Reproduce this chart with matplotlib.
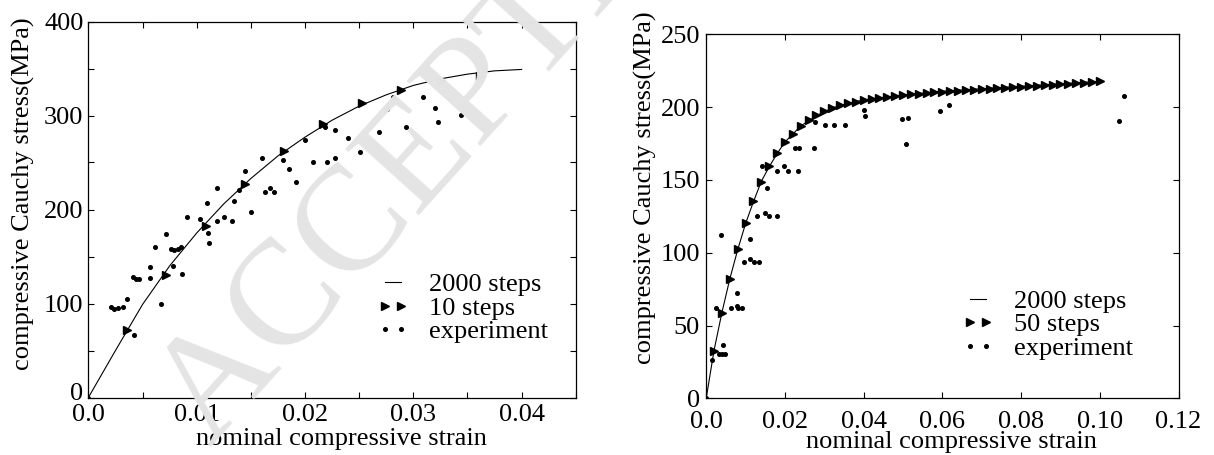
import matplotlib
matplotlib.use("Agg")
import matplotlib.pyplot as plt
from matplotlib.ticker import MultipleLocator, FixedLocator, FixedFormatter
from matplotlib.legend_handler import HandlerLine2D
from matplotlib.transforms import ScaledTranslation

plt.rcParams['font.family'] = ['Liberation Serif', 'DejaVu Serif']

# ---- left panel: 10-step integration ----
left_line_strain = [0, 0.0025, 0.005, 0.0075, 0.01, 0.0125, 0.015, 0.0175, 0.02,
                    0.0225, 0.025, 0.0275, 0.03, 0.0325, 0.035, 0.0375, 0.04]
left_line_stress = [0, 50, 99, 140, 175, 206, 233, 257, 277,
                    295, 310, 322, 332, 339, 344, 347.5, 349]

left_steps_strain = [0.0036, 0.0072, 0.0109, 0.0145, 0.0181, 0.0217, 0.0253,
                     0.0289, 0.0326, 0.0362]
left_steps_stress = [72, 130, 182, 227, 262, 291, 313, 327, 337, 342]

left_exp_strain = [0.0, 0.00205, 0.00233, 0.00275, 0.00318, 0.00357, 0.0041, 0.00441,
                   0.0047, 0.00417, 0.00568, 0.00568, 0.00618, 0.00667, 0.00717,
                   0.00759, 0.00794, 0.0083, 0.00858, 0.00777, 0.00865, 0.00907,
                   0.01034, 0.01098, 0.01105, 0.01116, 0.01186, 0.01186, 0.01253,
                   0.01324, 0.01345, 0.01395, 0.01447, 0.01497, 0.01603, 0.01635,
                   0.01677, 0.01716, 0.01797, 0.01853, 0.01913, 0.01998, 0.02076,
                   0.02189, 0.02203, 0.02274, 0.02274, 0.02401, 0.02503, 0.02687,
                   0.02754, 0.02814, 0.02934, 0.03089, 0.03199, 0.0323, 0.03442]
left_exp_stress = [0, 95.9, 93.8, 94.9, 95.9, 104.8, 127.8, 125.7,
                   125.7, 66.9, 139.1, 127.4, 159.6, 99.1, 173.8,
                   158.2, 156.8, 157.5, 160.0, 140.2, 131.3, 191.5,
                   189.4, 207.4, 174.5, 164.6, 223.4, 187.6, 191.5,
                   187.6, 208.8, 221.2, 241.1, 197.2, 255.2, 218.8,
                   223.4, 218.8, 252.4, 242.8, 229.4, 274.3, 250.3,
                   287.8, 250.3, 284.2, 255.2, 276.1, 261.2, 282.1,
                   306.9, 319.3, 287.4, 319.3, 308.3, 293.1, 300.5]

left_xticks = [0.0, 0.01, 0.02, 0.03, 0.04]
left_xticklabels = ['0.0', '0.01', '0.02', '0.03', '0.04']
left_yticks = [0, 100, 200, 300, 400]
left_yticklabels = ['0', '100', '200', '300', '400']

# ---- right panel: 50-step integration ----
right_line_strain = [0, 0.002, 0.004, 0.006, 0.008, 0.01, 0.012, 0.014, 0.016, 0.018,
                     0.02, 0.024, 0.028, 0.032, 0.036, 0.04, 0.05, 0.06, 0.07,
                     0.08, 0.09, 0.1]
right_line_stress = [0, 33, 59, 82, 102, 120, 135, 149, 159, 168,
                     176, 187, 194, 199.5, 202.5, 205, 208.3, 210.9, 212.6,
                     214.3, 216.0, 217.7]

right_steps_strain = [0.002, 0.004, 0.006, 0.008, 0.010, 0.012, 0.014, 0.016, 0.018, 0.020,
                      0.022, 0.024, 0.026, 0.028, 0.030, 0.032, 0.034, 0.036, 0.038, 0.040,
                      0.042, 0.044, 0.046, 0.048, 0.050, 0.052, 0.054, 0.056, 0.058, 0.060,
                      0.062, 0.064, 0.066, 0.068, 0.070, 0.072, 0.074, 0.076, 0.078, 0.080,
                      0.082, 0.084, 0.086, 0.088, 0.090, 0.092, 0.094, 0.096, 0.098, 0.100]
right_steps_stress = [32.3, 58.6, 82.0, 102.3, 120.5, 135.5, 148.6, 159.3, 168.5, 176.0,
                      181.8, 187.0, 190.9, 194.4, 197.1, 199.4, 201.2, 202.6, 203.8, 204.9,
                      205.8, 206.5, 207.1, 207.8, 208.3, 208.7, 209.2, 209.7, 210.1, 210.5,
                      210.9, 211.2, 211.5, 211.9, 212.2, 212.6, 212.9, 213.3, 213.6, 214.0,
                      214.3, 214.7, 215.0, 215.4, 215.7, 216.1, 216.4, 216.8, 217.1, 217.6]

right_exp_strain = [0.0, 0.0016, 0.0025, 0.0033, 0.0040, 0.0043, 0.0047, 0.0038, 0.0064,
                    0.0078, 0.0079, 0.0081, 0.0092, 0.0095, 0.0111, 0.0112, 0.0121,
                    0.0135, 0.0128, 0.0150, 0.0160, 0.0181, 0.0155, 0.0142, 0.0180,
                    0.0197, 0.0208, 0.0233, 0.0225, 0.0237, 0.0274, 0.0276, 0.0301,
                    0.0324, 0.0352, 0.0400, 0.0404, 0.0497, 0.0513, 0.0507, 0.0595,
                    0.0618, 0.1050, 0.1061]
right_exp_stress = [0, 26.1, 62.3, 30.4, 30.4, 36.4, 30.4, 112.2, 62.3,
                    72.6, 63.2, 62.3, 62.3, 93.4, 109.2, 95.5, 93.4,
                    93.4, 125.2, 127.3, 125.2, 125.2, 144.4, 159.8, 156.4,
                    159.8, 156.4, 156.4, 172.2, 172.2, 172.2, 189.8, 187.5,
                    187.5, 187.5, 197.8, 193.7, 192.1, 192.8, 174.5, 197.1,
                    201.2, 190.2, 207.4]

right_xticks = [0.0, 0.02, 0.04, 0.06, 0.08, 0.10, 0.12]
right_xticklabels = ['0.0', '0.02', '0.04', '0.06', '0.08', '0.10', '0.12']
right_yticks = [0, 50, 100, 150, 200, 250]
right_yticklabels = ['0', '50', '100', '150', '200', '250']

FS = 19
W, H = 1214, 455
fig = plt.figure(figsize=(W / 100, H / 100), dpi=100)

# faint diagonal stamp behind both panels
fig.text(210 / W, 1 - 447 / H, 'ACCEPTED MANUSCRIPT', rotation=48,
         rotation_mode='anchor', ha='left', va='baseline', fontsize=108,
         color='#e4e4e4', zorder=0)

axL = fig.add_axes([88.4 / W, 1 - 397.5 / H, 487.4 / W, 376.0 / H])
axR = fig.add_axes([706.2 / W, 1 - 398.3 / H, 472.3 / W, 364.0 / H])

for ax in (axL, axR):
    ax.set_facecolor('none')
    for s in ax.spines.values():
        s.set_linewidth(0.9)
    ax.tick_params(which='both', direction='in', top=True, right=True,
                   length=4, width=0.8, labelsize=FS)

# left panel
axL.plot(left_line_strain, left_line_stress, color='black', lw=0.8,
         label='2000 steps', zorder=3)
axL.plot(left_steps_strain, left_steps_stress, ls='none', marker='>',
         ms=6, color='black', label='10 steps', zorder=4)
axL.plot(left_exp_strain, left_exp_stress, ls='none', marker='o',
         ms=2.6, color='black', label='experiment', zorder=4)
axL.set_xlim(0, 0.045)
axL.set_ylim(0, 400)
axL.xaxis.set_major_locator(FixedLocator(left_xticks))
axL.xaxis.set_major_formatter(FixedFormatter(left_xticklabels))
axL.xaxis.set_minor_locator(MultipleLocator(0.005))
axL.yaxis.set_major_locator(FixedLocator(left_yticks))
axL.yaxis.set_major_formatter(FixedFormatter(left_yticklabels))
axL.yaxis.set_minor_locator(MultipleLocator(50))
axL.tick_params(axis='x', pad=4.5)
axL.tick_params(axis='y', pad=3.5)

# right panel
axR.plot(right_line_strain, right_line_stress, color='black', lw=0.8,
         label='2000 steps', zorder=3)
axR.plot(right_steps_strain, right_steps_stress, ls='none', marker='>',
         ms=6, color='black', label='50 steps', zorder=4)
axR.plot(right_exp_strain, right_exp_stress, ls='none', marker='o',
         ms=2.6, color='black', label='experiment', zorder=4)
axR.set_xlim(0, 0.12)
axR.set_ylim(0, 250)
axR.xaxis.set_major_locator(FixedLocator(right_xticks))
axR.xaxis.set_major_formatter(FixedFormatter(right_xticklabels))
axR.yaxis.set_major_locator(FixedLocator(right_yticks))
axR.yaxis.set_major_formatter(FixedFormatter(right_yticklabels))
axR.tick_params(axis='x', pad=9.0)
axR.tick_params(axis='y', pad=4.4)

# lift the "0" label on the left panel clear of the "0.0" below it
zero_tick = axL.yaxis.get_major_ticks()[0]
zero_tick.label1.set_transform(zero_tick.label1.get_transform()
                               + ScaledTranslation(0, 0.06, fig.dpi_scale_trans))

# axis titles (x titles placed by baseline)
for ax, (lx, ly), (xx, xy) in ((axL, (-0.134, 0.5426), (0.52, -0.125)),
                                (axR, (-0.1296, 0.579), (0.52, -0.136))):
    ax.set_ylabel('compressive Cauchy stress(MPa)', fontsize=FS)
    ax.yaxis.label.set_va('center')
    ax.yaxis.set_label_coords(lx, ly)
    ax.set_xlabel('nominal compressive strain', fontsize=FS)
    ax.xaxis.label.set_va('baseline')
    ax.xaxis.set_label_coords(xx, xy)

for ax, (hx, hy) in ((axL, (381.7, 273)), (axR, (966.7, 289.5))):
    handles, labels = ax.get_legend_handles_labels()
    ax.legend(handles, labels, loc='upper left',
              bbox_to_anchor=(hx / W, 1 - hy / H), bbox_transform=fig.transFigure,
              frameon=False, fontsize=FS, numpoints=2, handlelength=0.85,
              handletextpad=0.95, labelspacing=0.0, borderpad=0, borderaxespad=0,
              handler_map={h: HandlerLine2D(marker_pad=0.12) for h in handles})

fig.savefig('out.png', dpi=100, facecolor='white')
